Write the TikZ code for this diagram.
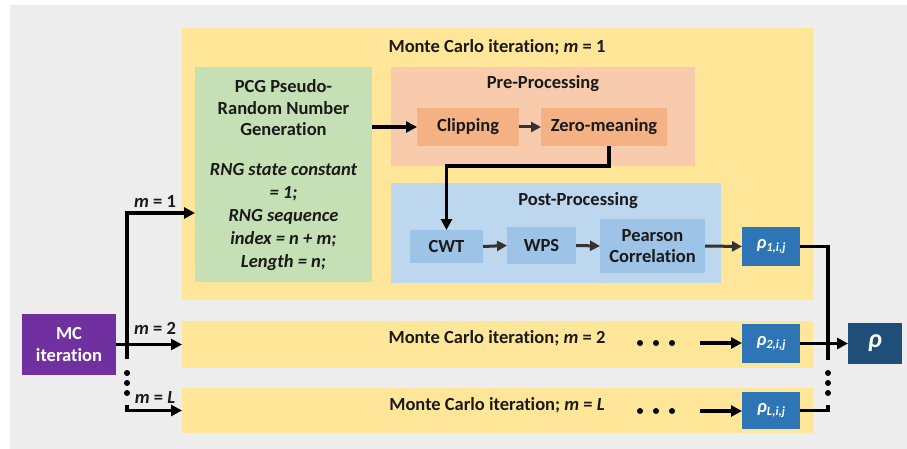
\documentclass[tikz,border=0pt]{standalone}
\usepackage{fontspec}
\setmainfont{Carlito}[Ligatures=NoCommon]
\usetikzlibrary{arrows.meta}

\definecolor{bggray}{HTML}{EDEDED}
\definecolor{mcyellow}{HTML}{FFE699}
\definecolor{rnggreen}{HTML}{C5E0B4}
\definecolor{prepeach}{HTML}{F8CBAD}
\definecolor{preorange}{HTML}{F4B183}
\definecolor{postblue}{HTML}{BDD7EE}
\definecolor{stepblue}{HTML}{9DC3E6}
\definecolor{rhoblue}{HTML}{2E75B6}
\definecolor{rhodark}{HTML}{1F4E79}
\definecolor{mcpurple}{HTML}{7030A0}
\definecolor{txt}{HTML}{1A1A1A}
\definecolor{darkarrow}{HTML}{333333}

\tikzset{
  box/.style={draw=none, inner sep=0pt, outer sep=0pt, rectangle},
  lbl/.style={font=\fontsize{18.5}{21.5}\selectfont\bfseries, text=txt, inner sep=0pt, align=center},
  wlbl/.style={font=\fontsize{18.5}{22}\selectfont\bfseries, text=white, inner sep=0pt, align=center},
  arr/.style={line width=3.2pt, -{Triangle[length=11pt,width=11pt]}},
  garr/.style={line width=3pt, darkarrow, -{Triangle[length=10pt,width=10pt]}},
  wire/.style={line width=3.2pt},
  dot/.style={circle, fill=black, inner sep=0pt, minimum size=6pt},
}

\newcommand{\rhosub}[1]{\textit{ρ}\raisebox{-0.3ex}{\fontsize{12.5}{13}\selectfont\textit{#1}}}

\begin{document}
\begin{tikzpicture}[x=1pt, y=-1pt]
\useasboundingbox (0,0) rectangle (907,449);
\fill[bggray] (10,5) rectangle (907,449);

% Monte Carlo iteration m = 1
\node[box, fill=mcyellow, minimum width=631, minimum height=272] (mc1) at (497.5,164) {};
\node[lbl] (t1) at (497,47) {Monte Carlo iteration; \textit{m} = 1};

% random number generation
\node[box, fill=rnggreen, minimum width=177, minimum height=215] (rng) at (283.5,174.5) {};
\node[lbl] (rngtitle) at (283.5,108) {PCG Pseudo-\\Random Number\\Generation};
\node[lbl, font=\fontsize{18.5}{23}\selectfont\bfseries\itshape] (rngtext) at (283.5,217)
  {RNG state constant\\= 1;\\RNG sequence\\index = n + m;\\Length = n;};

% pre-processing
\node[box, fill=prepeach, minimum width=304, minimum height=99] (pre) at (543,116.5) {};
\node[lbl] (pretitle) at (543,84) {Pre-Processing};
\node[box, fill=preorange, minimum width=102, minimum height=38] (clip) at (468,127) {};
\node[lbl] (cliptxt) at (clip) {Clipping};
\node[box, fill=preorange, minimum width=126, minimum height=38] (zero) at (604,127) {};
\node[lbl] (zerotxt) at (zero) {Zero-meaning};

% post-processing
\node[box, fill=postblue, minimum width=330, minimum height=100] (post) at (556,233) {};
\node[lbl] (posttitle) at (578,201) {Post-Processing};
\node[box, fill=stepblue, minimum width=73, minimum height=33] (cwt) at (446.5,246.5) {};
\node[lbl] (cwttxt) at (cwt) {CWT};
\node[box, fill=stepblue, minimum width=69, minimum height=37] (wps) at (541.5,245.5) {};
\node[lbl] (wpstxt) at (wps) {WPS};
\node[box, fill=stepblue, minimum width=105, minimum height=54] (pear) at (652.5,246) {};
\node[lbl] (peartxt) at (pear) {Pearson\\Correlation};

% correlation results
\node[box, fill=rhoblue, minimum width=58, minimum height=39] (r1) at (771,246.5) {};
\node[wlbl] (r1txt) at (r1) {\rhosub{1,i,j}};

% Monte Carlo iteration m = 2
\node[box, fill=mcyellow, minimum width=631, minimum height=47] (mc2) at (497.5,344.5) {};
\node[lbl] (t2) at (497,338) {Monte Carlo iteration; \textit{m} = 2};
\node[dot] (d21) at (640,343) {};
\node[dot] (d22) at (656,343) {};
\node[dot] (d23) at (672,343) {};
\node[box, fill=rhoblue, minimum width=58, minimum height=39] (r2) at (771,343.5) {};
\node[wlbl] (r2txt) at (r2) {\rhosub{2,i,j}};

% Monte Carlo iteration m = L
\node[box, fill=mcyellow, minimum width=631, minimum height=45] (mcL) at (497.5,410.5) {};
\node[lbl] (tL) at (497,405) {Monte Carlo iteration; \textit{m} = \textit{L}};
\node[dot] (dL1) at (640,411) {};
\node[dot] (dL2) at (656,411) {};
\node[dot] (dL3) at (672,411) {};
\node[box, fill=rhoblue, minimum width=58, minimum height=37] (rL) at (771,410.5) {};
\node[wlbl] (rLtxt) at (rL) {\rhosub{L,i,j}};

% combined result
\node[box, fill=rhodark, minimum width=54, minimum height=41] (rho) at (875,343.5) {};
\node[wlbl, font=\fontsize{26}{28}\selectfont\bfseries\itshape] (rhotxt) at (rho) {ρ};

% iteration source
\node[box, fill=mcpurple, minimum width=94, minimum height=61] (mc) at (69,344.5) {};
\node[wlbl] (mctxt) at (mc) {MC\\iteration};

% branch labels
\node[lbl] (lab1) at (155,201) {\textit{m} = 1};
\node[lbl] (lab2) at (155,328) {\textit{m} = 2};
\node[lbl] (labL) at (155,397) {\textit{m} = \textit{L}};

% ---- connectors inside iteration 1
\draw[arr] (clip.west -| rng.east) -- (clip.west);
\draw[garr] (clip.east) -- (zero.west);
\coordinate (zdrop) at ([xshift=5pt]zero.south);
\draw[wire, -{Triangle[length=11pt,width=11pt]}] (zdrop) -- (zdrop |- pre.south) -| (cwt.north);
\draw[garr] (cwt.east) -- (wps.west);
\draw[garr] (wps.east) -- (pear.west);
\draw[garr] (pear.east) -- (r1.west);

% ---- dotted continuation of the later iterations
\coordinate (s2) at (700,343);
\coordinate (sL) at (700,411);
\draw[arr] (s2) -- (s2 -| r2.west);
\draw[arr] (sL) -- (sL -| rL.west);

% ---- gathering the results
\coordinate (jtop) at (828,246.5);
\coordinate (jmid) at (828,360);
\coordinate (jlow) at (828,405);
\draw[wire] (r1.east) -- (jtop) -- (jmid);
\draw[wire] (rL.east) -| (jlow);
\node[dot] (jd1) at (828,373) {};
\node[dot] (jd2) at (828,383) {};
\node[dot] (jd3) at (828,393) {};
\draw[arr] (r2.east) -- (rho.west);

% ---- distributing the iterations
\coordinate (vtop) at (127,213);
\coordinate (vbot) at (127,359);
\coordinate (vlow) at (127,405);
\draw[arr] (vbot) -- (vtop) -- (vtop -| rng.west);
\draw[arr] (mc.east) -- (mc2.west);
\draw[arr] (vlow) |- (mcL.west);
\node[dot] (vd1) at (127,373) {};
\node[dot] (vd2) at (127,383) {};
\node[dot] (vd3) at (127,393) {};
\end{tikzpicture}
\end{document}
